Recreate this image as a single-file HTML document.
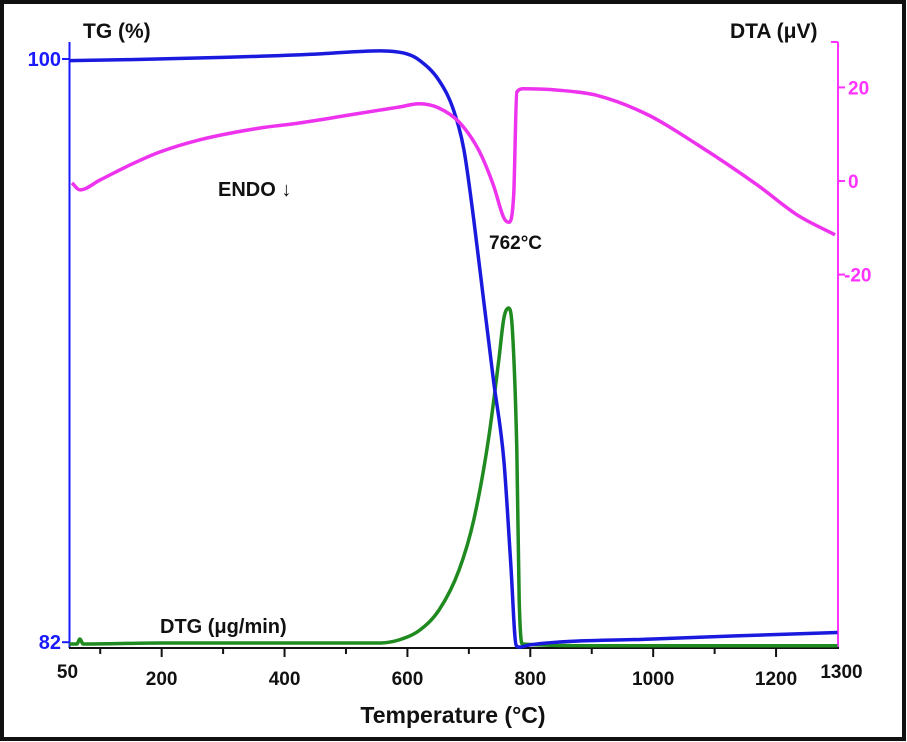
<!DOCTYPE html>
<html><head><meta charset="utf-8"><style>
html,body{margin:0;padding:0;background:#fff;}
svg{display:block;font-family:"Liberation Sans",Arial,sans-serif;font-weight:bold;}
</style></head><body>
<svg id="chart" width="907" height="742" viewBox="0 0 907 742">
<rect x="2" y="2" width="902" height="737" fill="#fff" stroke="#111" stroke-width="4"/>
<g id="axes"></g>
<g id="series"></g>
<text x="83" y="38" font-size="21" fill="#111">TG (%)</text>
<text x="730" y="38" font-size="21" fill="#111">DTA (μV)</text>
<text x="218" y="196" font-size="20" fill="#111">ENDO ↓</text>
<text x="489" y="249" font-size="19" fill="#111">762°C</text>
<text x="160" y="633" font-size="20" fill="#111">DTG (μg/min)</text>
<text x="453" y="723" font-size="23" fill="#111" text-anchor="middle">Temperature (°C)</text>
</svg>
<script>
const xMajor=[200,400,600,800,1000,1200];
const xMinor=[100,300,500,700,900,1100];
const xEdgeLabels=[50,1300];
const tgTicks=[100,82];
const dtaTicks=[20,0,-20];
const tgT=[50,150,300,450,554,600,619,651,675,692,708,724,740,757,768,777,782,800,1000,1300];
const tgV=[99.95,99.98,100.05,100.15,100.25,100.15,99.97,99.35,98.43,97.2,95.03,92.56,90.1,87.6,84.5,81.9,81.85,81.92,82.1,82.3];
const dtaT=[54,67,99.5,148,197,262,359,424,505,586,619,651,684,716,740,757,765,773,778,789,846,911,992,1073,1170,1235,1296];
const dtaV=[-0.4,-1.9,0.2,3.4,6.2,8.8,11.3,12.4,14.1,15.8,16.5,15.6,12.6,6.6,-0.9,-7.9,-8.8,-3,19,19.7,19.4,18.2,14.1,7.7,-0.9,-7.3,-11.5];
const dtgT=[50,62,67,72,200,400,554,586,619,651,684,708,732,749,757,765,771,778,782,787,900,1300];
const dtgV=[0,0,1.5,0,0.3,0.3,0.3,1.2,4,10,22,37,61,85,97,100,93,58,13,0,-0.5,-0.5];
const X=t=>69.5+(t-50)*0.6144;
const YTG=v=>59+(100-v)*32.4;
const YDTA=v=>181-v*4.68;
const YDTG=v=>644-v*3.36;
const NS='http://www.w3.org/2000/svg';
const axes=document.getElementById('axes'),series=document.getElementById('series');
function mk(tag,attrs,parent){const e=document.createElementNS(NS,tag);for(const k in attrs)e.setAttribute(k,attrs[k]);parent.appendChild(e);return e;}
let e;
e=mk('line',{x1:69.5,y1:42,x2:69.5,y2:648,stroke:'#1a1aff','stroke-width':2},axes);


e=mk('line',{x1:838,y1:42,x2:838,y2:648,stroke:'#ff33ff','stroke-width':2},axes);


e=mk('line',{x1:69,y1:648,x2:839,y2:648,stroke:'#111','stroke-width':2},axes);


e=mk('line',{x1:831,y1:42,x2:838,y2:42,stroke:'#ff33ff','stroke-width':2},axes);


xMajor.forEach(t=>{
 e=mk('line',{x1:X(t),y1:648,x2:X(t),y2:657,stroke:'#111','stroke-width':2},axes);
 
 
 e=mk('text',{x:X(t),y:685,'font-size':19,'text-anchor':'middle',fill:'#111'},axes);e.textContent=t;
 
 
});
xMinor.forEach(t=>{
 e=mk('line',{x1:X(t),y1:648,x2:X(t),y2:654,stroke:'#111','stroke-width':2},axes);
 
 
});
xEdgeLabels.forEach(t=>{
 e=mk('text',{x:X(t)+(t===50?-2:4),y:678,'font-size':19,'text-anchor':'middle',fill:'#111'},axes);e.textContent=t;
 
 
});
tgTicks.forEach(v=>{
 e=mk('line',{x1:62,y1:YTG(v),x2:70,y2:YTG(v),stroke:'#1a1aff','stroke-width':2},axes);
 
 
 e=mk('text',{x:61,y:YTG(v)+7,'font-size':20,'text-anchor':'end',fill:'#1a1aff'},axes);e.textContent=v;
 
 
});
dtaTicks.forEach(v=>{
 e=mk('line',{x1:838,y1:YDTA(v),x2:845,y2:YDTA(v),stroke:'#ff33ff','stroke-width':2},axes);
 
 
 e=mk('text',{x:v<0?844:848,y:YDTA(v)+7,'font-size':19,fill:'#ff33ff'},axes);e.textContent=v;
 
 
});
// monotone cubic (Fritsch-Carlson) path in pixel space
function path(T,V,fy){
 const xs=T.map(X),ys=V.map(fy),n=xs.length;
 const d=[],m=[];
 for(let i=0;i<n-1;i++)d.push((ys[i+1]-ys[i])/(xs[i+1]-xs[i]));
 m[0]=d[0];m[n-1]=d[n-2];
 for(let i=1;i<n-1;i++){m[i]=(d[i-1]*d[i]<=0)?0:(d[i-1]+d[i])/2;}
 for(let i=0;i<n-1;i++){
  if(d[i]===0){m[i]=0;m[i+1]=0;continue;}
  const a=m[i]/d[i],b=m[i+1]/d[i],s=a*a+b*b;
  if(s>9){const t=3/Math.sqrt(s);m[i]=t*a*d[i];m[i+1]=t*b*d[i];}
 }
 let p='M'+xs[0].toFixed(1)+','+ys[0].toFixed(1);
 for(let i=0;i<n-1;i++){
  const h=(xs[i+1]-xs[i])/3;
  p+=' C'+(xs[i]+h).toFixed(1)+','+(ys[i]+m[i]*h).toFixed(1)+' '+(xs[i+1]-h).toFixed(1)+','+(ys[i+1]-m[i+1]*h).toFixed(1)+' '+xs[i+1].toFixed(1)+','+ys[i+1].toFixed(1);
 }
 return p;
}
e=mk('path',{d:path(dtgT,dtgV,YDTG),fill:'none',stroke:'#1f8a1f','stroke-width':3.5,'stroke-linejoin':'round'},series);


e=mk('path',{d:path(tgT,tgV,YTG),fill:'none',stroke:'#1a1adf','stroke-width':3.5,'stroke-linejoin':'round'},series);


e=mk('path',{d:path(dtaT,dtaV,YDTA),fill:'none',stroke:'#ee33ee','stroke-width':3.5,'stroke-linejoin':'round'},series);


</script>
</body></html>
